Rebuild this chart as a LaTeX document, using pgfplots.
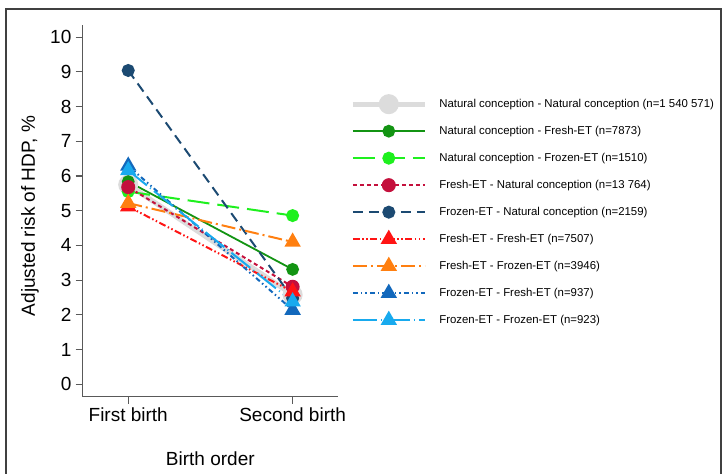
\documentclass[border=0pt]{standalone}
\usepackage{fontspec}
\setmainfont{Liberation Sans}
\usepackage{pgfplots}
\pgfplotsset{compat=1.18}

\definecolor{cGray}{HTML}{DCDCDC}
\definecolor{cGreen}{HTML}{139413}
\definecolor{cLime}{HTML}{1EF01E}
\definecolor{cCrimson}{HTML}{C4103C}
\definecolor{cNavy}{HTML}{1C4A72}
\definecolor{cRed}{HTML}{FF1414}
\definecolor{cOrange}{HTML}{FF7F10}
\definecolor{cBlue}{HTML}{1268BC}
\definecolor{cLightBlue}{HTML}{18AAEE}

\begin{document}
\begin{tikzpicture}[x=1pt,y=1pt]
\useasboundingbox (0,0) rectangle (724,474);
\begin{scope}
  \clip (0,0) rectangle (724,474);
  \draw[line width=1.3pt, black!75] (6,-10) -- (6,465) -- (721,465) -- (721,-10);
\end{scope}
\begin{axis}[
  at={(82.7pt,77.3pt)}, anchor=south west,
  scale only axis, width=255.3pt, height=371.7pt,
  xmin=-0.277, xmax=1.276, ymin=-0.357, ymax=10.35,
  axis x line*=bottom, axis y line*=left,
  axis line style={-, line width=1.3pt, black!65},
  xtick={0,1}, xticklabels={First birth, Second birth},
  ytick={0,1,2,3,4,5,6,7,8,9,10},
  tick align=outside, major tick length=7pt,
  tick style={line width=1.2pt, black!65},
  /pgf/number format/assume math mode=true,
  tick label style={font=\fontsize{19}{22}\selectfont},
  xlabel={Birth order},
  ylabel={Adjusted risk of HDP, \%},
  label style={font=\fontsize{19}{22}\selectfont},
  x label style={at={(axis description cs:0.5,-0.1838)}, anchor=base},
  y label style={at={(axis description cs:-0.2064,0.486)}, anchor=center},
  clip=false,
  line width=2pt,
  legend cell align=left,
  legend style={at={(1.0443,0.826)}, anchor=north west, draw=none, fill=none,
    inner sep=0pt, row sep=0pt, column sep=12pt,
    font=\fontsize{11.4}{13}\selectfont,
    nodes={inner sep=0pt, minimum height=27pt}},
  legend image code/.code={\draw[mark repeat=2,mark phase=2,#1]
    plot coordinates {(0pt,0pt) (36pt,0pt) (72pt,0pt)};},
]
\addplot[cGray, line width=5pt, mark=*, mark size=7.5pt, mark options={solid}]
  coordinates {(0,5.75) (1,2.58)};
\addlegendentry{Natural conception - Natural conception (n=1 540 571)}
\addplot[cGreen, line width=1.8pt, mark=*, mark size=5.5pt, mark options={solid}]
  coordinates {(0,5.84) (1,3.31)};
\addlegendentry{Natural conception - Fresh-ET (n=7873)}
\addplot[cLime, dash pattern=on 22pt off 8pt, mark=*, mark size=5.5pt, mark options={solid}]
  coordinates {(0,5.55) (1,4.86)};
\addlegendentry{Natural conception - Frozen-ET (n=1510)}
\addplot[cCrimson, dash pattern=on 4pt off 3pt, mark=*, mark size=6pt, mark options={solid}]
  coordinates {(0,5.68) (1,2.81)};
\addlegendentry{Fresh-ET - Natural conception (n=13 764)}
\addplot[cNavy, dash pattern=on 10pt off 6pt, mark=*, mark size=5.5pt, mark options={solid}]
  coordinates {(0,9.04) (1,2.48)};
\addlegendentry{Frozen-ET - Natural conception (n=2159)}
\addplot[cRed, dash pattern=on 7pt off 2.5pt on 1.5pt off 2.5pt on 1.5pt off 2.5pt, mark=triangle*, mark size=7.5pt, mark options={solid}]
  coordinates {(0,5.12) (1,2.67)};
\addlegendentry{Fresh-ET - Fresh-ET (n=7507)}
\addplot[cOrange, dash pattern=on 14pt off 4pt on 2pt off 4pt, mark=triangle*, mark size=7.5pt, mark options={solid}]
  coordinates {(0,5.22) (1,4.10)};
\addlegendentry{Fresh-ET - Frozen-ET (n=3946)}
\addplot[cBlue, dash pattern=on 5pt off 3pt on 1.5pt off 3pt on 1.5pt off 3pt, mark=triangle*, mark size=7.5pt, mark options={solid}]
  coordinates {(0,6.29) (1,2.14)};
\addlegendentry{Frozen-ET - Fresh-ET (n=937)}
\addplot[cLightBlue, dash pattern=on 24pt off 4pt on 1pt off 4pt, mark=triangle*, mark size=7.5pt, mark options={solid}]
  coordinates {(0,6.16) (1,2.38)};
\addlegendentry{Frozen-ET - Frozen-ET (n=923)}
\end{axis}
\end{tikzpicture}
\end{document}
